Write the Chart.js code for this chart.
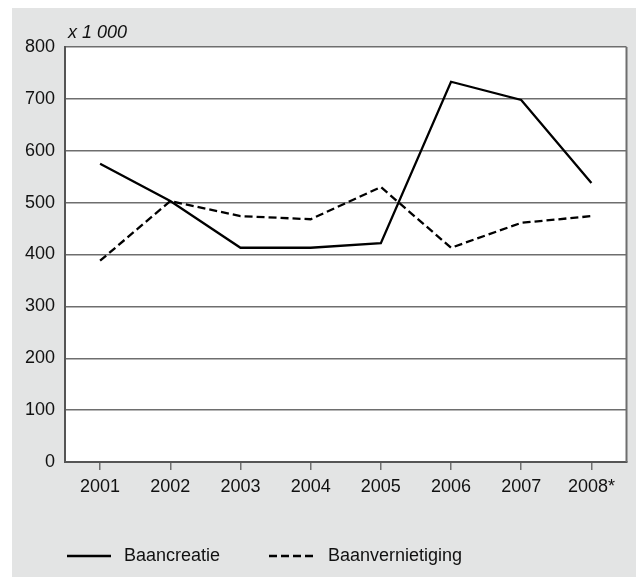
<!DOCTYPE html>
<html>
<head>
<meta charset="utf-8">
<script src="https://cdn.jsdelivr.net/npm/chart.js@4.4.0/dist/chart.umd.min.js"></script>
<style>
  html, body { margin: 0; padding: 0; background: #ffffff; }
  #wrap { position: relative; width: 636px; height: 579px; }
  #bg { position: absolute; left: 12px; top: 8px; width: 624px; height: 569px; background: #e3e4e4; }
  canvas { position: absolute; left: 0; top: 0; }
</style>
</head>
<body>
<div id="wrap">
  <div id="bg"></div>
  <canvas id="c" width="636" height="579"></canvas>
</div>
<script>
const categories = ['2001', '2002', '2003', '2004', '2005', '2006', '2007', '2008*'];
const baancreatie = [575, 503, 413, 413, 422, 733, 698, 538];
const baanvernietiging = [388, 503, 474, 468, 530, 413, 461, 474];
const yTicks = [0, 100, 200, 300, 400, 500, 600, 700, 800];
const unitLabel = 'x 1 000';

const FONT = '"Liberation Sans", Arial, Helvetica, sans-serif';

const framePlugin = {
  id: 'frame',
  beforeDraw(chart) {
    const { ctx, chartArea: a } = chart;
    ctx.save();
    ctx.fillStyle = '#ffffff';
    ctx.fillRect(a.left, a.top, a.right - a.left, a.bottom - a.top);
    ctx.restore();
  },
  afterDraw(chart) {
    const { ctx, chartArea: a } = chart;
    ctx.save();
    ctx.strokeStyle = '#6e6e6e';
    ctx.lineWidth = 2;
    ctx.beginPath();
    ctx.moveTo(a.right, a.top);
    ctx.lineTo(a.right, a.bottom);
    ctx.stroke();
    // unit label
    ctx.fillStyle = '#111';
    ctx.font = 'italic 18px ' + FONT;
    ctx.textBaseline = 'middle';
    ctx.textAlign = 'left';
    ctx.fillText(unitLabel, 68, 33);
    // legend
    const items = chart.data.datasets;
    const xs = [[67, 111, 124], [269, 314, 328]];
    const ly = 556;
    items.forEach((ds, i) => {
      const p = xs[i];
      ctx.strokeStyle = ds.borderColor;
      ctx.lineWidth = ds.borderWidth;
      ctx.setLineDash(ds.borderDash || []);
      ctx.beginPath();
      ctx.moveTo(p[0], ly);
      ctx.lineTo(p[1], ly);
      ctx.stroke();
      ctx.setLineDash([]);
      ctx.fillStyle = '#111';
      ctx.font = '18px ' + FONT;
      ctx.fillText(ds.label, p[2], ly);
    });
    ctx.restore();
  }
};

new Chart(document.getElementById('c'), {
  type: 'line',
  data: {
    labels: categories,
    datasets: [
      { label: 'Baancreatie', data: baancreatie, borderColor: '#000', borderWidth: 2.3, pointRadius: 0, tension: 0, fill: false },
      { label: 'Baanvernietiging', data: baanvernietiging, borderColor: '#000', borderWidth: 2.3, borderDash: [8, 4], pointRadius: 0, tension: 0, fill: false }
    ]
  },
  options: {
    responsive: false,
    animation: false,
    layout: { padding: { left: 0, right: 9.5, top: 47, bottom: 0 } },
    plugins: { legend: { display: false }, tooltip: { enabled: false } },
    scales: {
      x: {
        type: 'category',
        offset: true,
        afterFit(s) { s.height = 117; },
        grid: { display: true, drawOnChartArea: false, drawTicks: true, tickLength: 8, color: '#6e6e6e', lineWidth: 1.5, offset: false },
        border: { display: true, color: '#555', width: 2 },
        ticks: { color: '#111', font: { family: FONT, size: 18 }, padding: 6, maxRotation: 0, autoSkip: false }
      },
      y: {
        min: 0,
        max: 800,
        afterFit(s) { s.width = 65; },
        afterBuildTicks(s) { s.ticks = yTicks.map(v => ({ value: v })); },
        grid: { color: '#6e6e6e', lineWidth: 1.5, drawTicks: false },
        border: { display: true, color: '#555', width: 2 },
        ticks: { color: '#111', font: { family: FONT, size: 18 }, padding: 10 }
      }
    }
  },
  plugins: [framePlugin]
});
</script>
</body>
</html>
